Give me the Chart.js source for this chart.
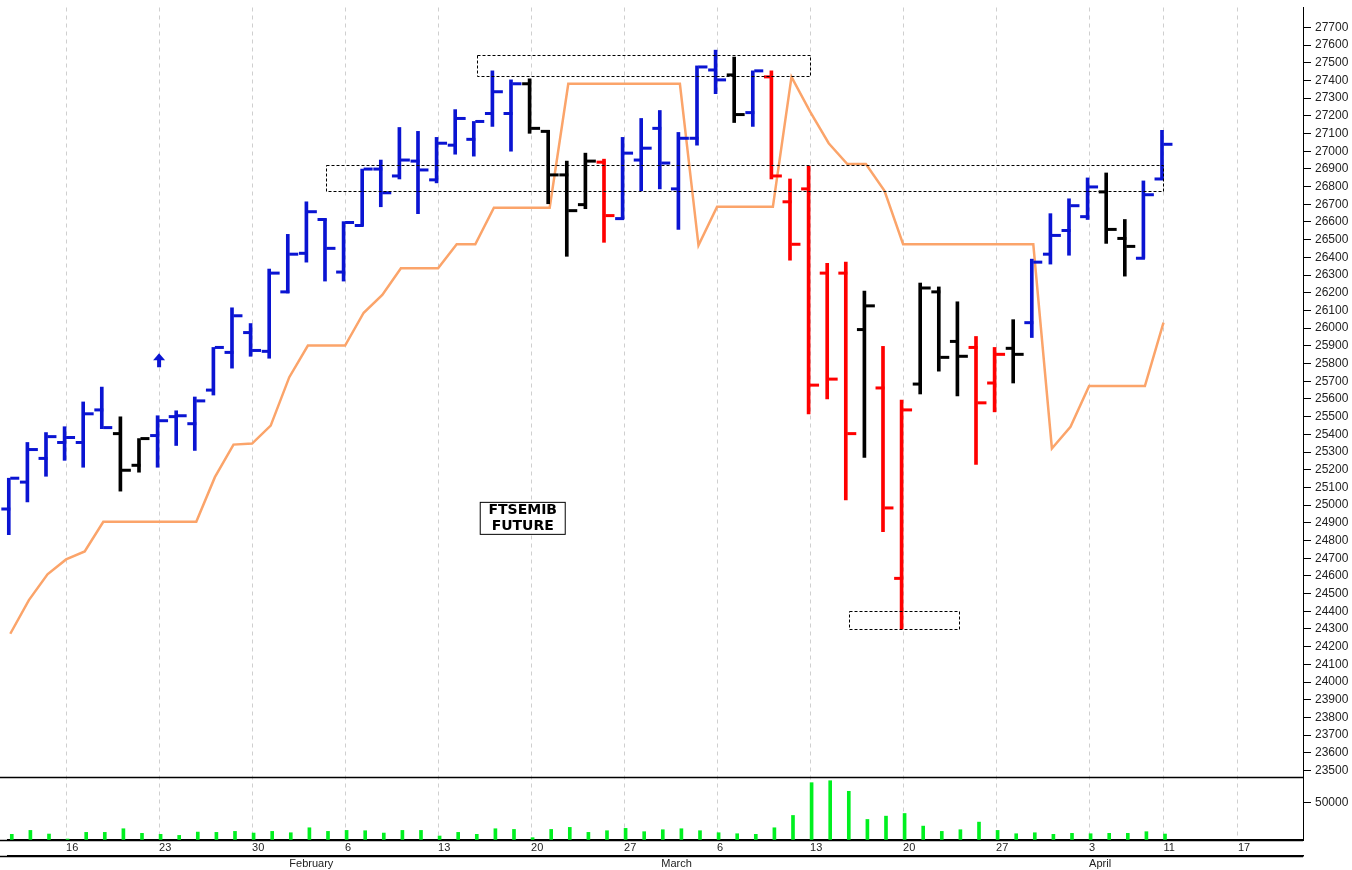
<!DOCTYPE html>
<html>
<head>
<meta charset="utf-8">
<script src="https://cdn.jsdelivr.net/npm/chart.js@4.4.0/dist/chart.umd.min.js"></script>
<style>
  body { margin: 0; background: #fff; }
  #wrap { width: 1352px; height: 870px; }
</style>
</head>
<body>
<div id="wrap"><canvas id="myChart"></canvas></div>
<script>
// trading days, 11 Jan - 11 Apr
const dates = [
  "Jan 11", "Jan 12", "Jan 13", "Jan 16", "Jan 17", "Jan 18", "Jan 19", "Jan 20",
  "Jan 23", "Jan 24", "Jan 25", "Jan 26", "Jan 27", "Jan 30", "Jan 31",
  "Feb 1", "Feb 2", "Feb 3", "Feb 6", "Feb 7", "Feb 8", "Feb 9", "Feb 10",
  "Feb 13", "Feb 14", "Feb 15", "Feb 16", "Feb 17", "Feb 20", "Feb 21", "Feb 22",
  "Feb 23", "Feb 24", "Feb 27", "Feb 28", "Mar 1", "Mar 2", "Mar 3", "Mar 6",
  "Mar 7", "Mar 8", "Mar 9", "Mar 10", "Mar 13", "Mar 14", "Mar 15", "Mar 16",
  "Mar 17", "Mar 20", "Mar 21", "Mar 22", "Mar 23", "Mar 24", "Mar 27", "Mar 28",
  "Mar 29", "Mar 30", "Mar 31", "Apr 3", "Apr 4", "Apr 5", "Apr 6", "Apr 11",
];

const opens = [
  24978, 25130, 25264, 25354, 25354, 25538, 25404, 25225, 25393, 25500, 25460, 25650,
  25863, 25975, 25869, 26205, 26423, 26614, 26317, 26580, 26899, 26860, 26944, 26838,
  27034, 27067, 27213, 27213, 27381, 27112, 26866, 26698, 26938, 26619, 26950, 27129,
  26787, 27073, 27459, 27431, 27218, 27420, 26714, 26787, 26311, 26311, 25992, 25662,
  24586, 25684, 26205, 25925, 25891, 25690, 25886, 26031, 26418, 26552, 26630, 26770,
  26507, 26395, 26843,
];
const highs = [
  25152, 25354, 25410, 25443, 25583, 25667, 25499, 25376, 25505, 25533, 25611, 25891,
  26115, 26026, 26334, 26530, 26714, 26619, 26602, 26899, 26950, 27134, 27112, 27078,
  27235, 27168, 27454, 27403, 27409, 27118, 26944, 26989, 26955, 27078, 27185, 27230,
  27106, 27482, 27571, 27532, 27454, 27454, 26843, 26916, 26367, 26373, 26210, 25897,
  25594, 26255, 26233, 26149, 25953, 25891, 26048, 26390, 26647, 26731, 26849, 26877,
  26614, 26832, 27118,
];
const lows = [
  24833, 25018, 25163, 25253, 25214, 25432, 25079, 25186, 25214, 25337, 25309, 25622,
  25774, 25841, 25830, 26199, 26373, 26266, 26266, 26580, 26686, 26843, 26647, 26821,
  26983, 26972, 27140, 27000, 27101, 26703, 26406, 26675, 26485, 26619, 26776, 26787,
  26558, 27034, 27325, 27162, 27140, 26843, 26384, 25516, 25600, 25029, 25270, 24850,
  24301, 25628, 25757, 25617, 25230, 25527, 25690, 25947, 26362, 26412, 26614, 26479,
  26294, 26395, 26843,
];
const closes = [
  25152, 25314, 25387, 25382, 25516, 25438, 25197, 25376, 25477, 25505, 25589, 25891,
  26070, 25874, 26311, 26418, 26658, 26451, 26597, 26899, 26765, 26950, 26894, 27045,
  27185, 27168, 27336, 27381, 27129, 26866, 26664, 26944, 26636, 26989, 27017, 26933,
  27073, 27476, 27403, 27207, 27454, 26860, 26474, 25678, 25712, 25404, 26126, 24984,
  25538, 26227, 25835, 25841, 25578, 25852, 25852, 26373, 26524, 26692, 26798, 26558,
  26462, 26754, 27039,
];
// b = up trend, k = neutral, r = down trend
const signal = [
  "b", "b", "b", "b", "b", "b", "k", "k", "b", "b", "b", "b", "b", "b", "b", "b",
  "b", "b", "b", "b", "b", "b", "b", "b", "b", "b", "b", "b", "k", "k", "k", "k",
  "r", "b", "b", "b", "b", "b", "b", "k", "b", "r", "r", "r", "r", "r", "k", "r",
  "r", "k", "k", "k", "r", "r", "k", "b", "b", "b", "b", "k", "k", "b", "b",
];
const stopLine = [
  24273, 24463, 24609, 24693, 24738, 24906, 24906, 24906, 24906, 24906, 24906, 25158,
  25342, 25348, 25449, 25723, 25902, 25902, 25902, 26087, 26188, 26339, 26339, 26339,
  26474, 26474, 26681, 26681, 26681, 26681, 27381, 27381, 27381, 27381, 27381, 27381,
  27381, 26468, 26686, 26686, 26686, 26686, 27420, 27224, 27045, 26927, 26927, 26776,
  26474, 26474, 26474, 26474, 26474, 26474, 26474, 26474, 25320, 25443, 25673, 25673,
  25673, 25673, 26031,
];
const volumes = [
  7500, 12700, 7900, 1300, 10100, 10100, 14900, 8800, 7500, 6100, 10500, 10100,
  11400, 9200, 11400, 9600, 16200, 11400, 12700, 12300, 9200, 12700, 12700, 5300,
  10100, 7500, 14900, 14000, 3100, 14000, 16700, 10100, 12300, 15400, 11000, 13600,
  14900, 12300, 9600, 8300, 7500, 16200, 32500, 75900, 78500, 64500, 27200, 31600,
  35100, 18400, 11400, 13600, 23700, 12700, 8300, 9600, 7500, 8800, 8300, 8800,
  8800, 11000, 7900,
];

// axis labels (index into the trading-day sequence, incl. days after Apr 11)
const dayTickIdx = [3, 8, 13, 18, 23, 28, 33, 38, 43, 48, 53, 58, 62, 66];
const dayTickLabels = ["16", "23", "30", "6", "13", "20", "27", "6", "13", "20", "27", "3", "11", "17"];
const monthTickIdx = [15, 35, 58];
const monthTickLabels = ["February", "March", "April"];

// boxes drawn on the chart: [fromIdx, toIdx, lowPrice, highPrice]
const zones = [
  [25.1, 43.0, 27426, 27543],
  [17.0, 62.0, 26776, 26922],
  [45.1, 51.0, 24301, 24402],
];
const signalArrow = { idx: 8, price: 25779 };
const titleLines = ["FTSEMIB", "FUTURE"];
const titlePos = { idx: 27.55, price: 24928 };

const colorOf = { b: "#0a14d2", k: "#000000", r: "#ff0000" };
const barColor = signal.map((s) => colorOf[s]);
const tickOff = 0.24;
const xMin = -0.15;
const xMax = 69.5;

const idx = dates.map((d, i) => i);

function noPad(s) {
  s.paddingTop = 0;
  s.paddingBottom = 0;
  s.paddingLeft = 0;
  s.paddingRight = 0;
}

const annot = {
  id: "annot",
  afterDatasetsDraw(chart) {
    const { ctx, scales, chartArea } = chart;
    const x = scales.x;
    const y = scales.y;
    ctx.save();

    // pane separator and left stubs of the axis lines
    ctx.strokeStyle = "#000";
    ctx.lineWidth = 1.5;
    ctx.beginPath();
    [y.bottom, scales.x.top, scales.x2.top].forEach((py) => {
      ctx.moveTo(0, Math.round(py) + 0.5);
      ctx.lineTo(chartArea.right, Math.round(py) + 0.5);
    });
    ctx.stroke();

    // dashed zones
    ctx.lineWidth = 1;
    ctx.setLineDash([3, 2]);
    zones.forEach((z) => {
      const x1 = x.getPixelForValue(z[0]);
      const x2 = x.getPixelForValue(z[1]);
      const y1 = y.getPixelForValue(z[3]);
      const y2 = y.getPixelForValue(z[2]);
      ctx.strokeRect(Math.round(x1) + 0.5, Math.round(y1) + 0.5, Math.round(x2 - x1), Math.round(y2 - y1));
    });
    ctx.setLineDash([]);

    // buy arrow
    const ax = x.getPixelForValue(signalArrow.idx);
    const ay = y.getPixelForValue(signalArrow.price);
    ctx.fillStyle = "#0a14d2";
    ctx.beginPath();
    ctx.moveTo(ax, ay - 14);
    ctx.lineTo(ax - 6, ay - 7);
    ctx.lineTo(ax + 6, ay - 7);
    ctx.closePath();
    ctx.fill();
    ctx.fillRect(ax - 2, ay - 8, 4, 8);

    // title box
    const tx = x.getPixelForValue(titlePos.idx);
    const ty = y.getPixelForValue(titlePos.price);
    ctx.fillStyle = "#fff";
    ctx.fillRect(tx - 43, ty - 16, 86, 33);
    ctx.strokeStyle = "#000";
    ctx.strokeRect(tx - 42.5, ty - 15.5, 85, 32);
    ctx.fillStyle = "#000";
    ctx.font = "bold 14px 'DejaVu Sans'";
    ctx.textAlign = "center";
    ctx.textBaseline = "middle";
    ctx.fillText(titleLines[0], tx, ty - 7);
    ctx.fillText(titleLines[1], tx, ty + 9);
    ctx.restore();
  },
};

new Chart(document.getElementById("myChart"), {
  data: {
    datasets: [
      {
        type: "line",
        data: idx.map((i) => ({ x: i, y: stopLine[i] })),
        borderColor: "#fba46a",
        borderWidth: 2.5,
        pointRadius: 0,
        tension: 0,
        order: 5,
      },
      {
        type: "bar",
        data: idx.map((i) => ({ x: i, y: [lows[i], highs[i]] })),
        backgroundColor: barColor,
        barThickness: 3,
        clip: false,
        order: 2,
      },
      {
        type: "scatter",
        data: idx.map((i) => ({ x: i - tickOff, y: opens[i] })),
        pointStyle: "line",
        pointRadius: 4.5,
        borderWidth: 3,
        borderColor: barColor,
        clip: false,
        order: 1,
      },
      {
        type: "scatter",
        data: idx.map((i) => ({ x: i + tickOff, y: closes[i] })),
        pointStyle: "line",
        pointRadius: 4.5,
        borderWidth: 3,
        borderColor: barColor,
        clip: false,
        order: 1,
      },
      {
        type: "bar",
        yAxisID: "y2",
        data: idx.map((i) => ({ x: i, y: volumes[i] })),
        backgroundColor: "#00f020",
        barThickness: 3,
        clip: false,
        order: 3,
      },
    ],
  },
  options: {
    responsive: true,
    maintainAspectRatio: false,
    animation: false,
    layout: { padding: 0 },
    plugins: {
      legend: { display: false },
      tooltip: { enabled: false },
    },
    scales: {
      x: {
        type: "linear",
        position: "bottom",
        offset: false,
        min: xMin,
        max: xMax,
        afterBuildTicks: (s) => {
          s.ticks = dayTickIdx.map((v) => ({ value: v }));
        },
        afterFit: (s) => {
          s.height = 16;
          noPad(s);
        },
        ticks: {
          autoSkip: false,
          maxRotation: 0,
          align: "start",
          padding: 1,
          color: "#222",
          font: { family: "Liberation Sans", size: 11 },
          callback: (v, i) => dayTickLabels[i],
        },
        grid: {
          offset: false,
          color: "#cfcfcf",
          drawTicks: false,
        },
        border: { color: "#000", width: 1.5, dash: [4, 4] },
      },
      x2: {
        type: "linear",
        position: "bottom",
        offset: false,
        min: xMin,
        max: xMax,
        afterBuildTicks: (s) => {
          s.ticks = monthTickIdx.map((v) => ({ value: v }));
        },
        afterFit: (s) => {
          s.height = 14;
          noPad(s);
        },
        ticks: {
          autoSkip: false,
          maxRotation: 0,
          align: "start",
          padding: 1,
          color: "#222",
          font: { family: "Liberation Sans", size: 11 },
          callback: (v, i) => monthTickLabels[i],
        },
        grid: { offset: false, drawOnChartArea: false, drawTicks: false },
        border: { color: "#000", width: 1.5 },
      },
      y: {
        type: "linear",
        position: "right",
        stack: "panes",
        stackWeight: 776 / 64,
        min: 23466,
        max: 27812,
        afterBuildTicks: (s) => {
          const t = [];
          for (let v = 23500; v <= 27700; v += 100) t.push({ value: v });
          s.ticks = t;
        },
        afterFit: (s) => {
          s.width = 49;
          noPad(s);
        },
        ticks: {
          autoSkip: false,
          padding: 4,
          color: "#222",
          font: { family: "Liberation Sans", size: 12 },
          callback: (v) => String(v),
        },
        grid: { drawOnChartArea: false, color: "#000", tickLength: 8 },
        border: { color: "#000", width: 1 },
      },
      y2: {
        type: "linear",
        position: "right",
        stack: "panes",
        stackWeight: 1,
        min: 0,
        max: 84000,
        afterBuildTicks: (s) => {
          s.ticks = [{ value: 50000 }];
        },
        afterFit: (s) => {
          s.width = 49;
          noPad(s);
        },
        ticks: {
          padding: 4,
          color: "#222",
          font: { family: "Liberation Sans", size: 12 },
          callback: (v) => String(v),
        },
        grid: { drawOnChartArea: false, color: "#000", tickLength: 8 },
        border: { color: "#000", width: 1 },
      },
    },
  },
  plugins: [annot],
});
</script>
</body>
</html>
